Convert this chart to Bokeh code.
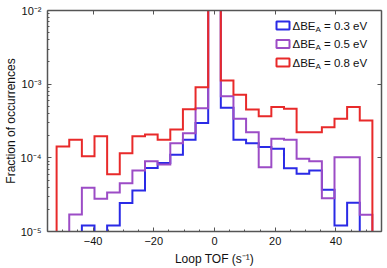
from bokeh.plotting import figure
from bokeh.models import (LinearAxis, LogAxis, CustomJSTickFormatter, FixedTicker,
                          BoxAnnotation, Label, Range1d, SingleIntervalTicker)
from bokeh.embed import file_html
from bokeh.resources import INLINE
import numpy as np

# ---- data ----
bin_start = -52.0
bin_stop = 52.0
n_bins = 25

series_labels = ["0.3 eV", "0.5 eV", "0.8 eV"]
frac_03 = [0, 0, 1.21e-5, 0, 1.21e-5, 2.43e-5, 3.6e-5, 7.3e-5, 8.5e-5, 1.1e-4, 1.76e-4, 2.96e-4,
           0.997, 4.78e-4, 1.76e-4, 1.58e-4, 1.40e-4, 1.33e-4, 7.2e-5, 6.07e-5, 6.73e-5, 3.68e-5,
           1.21e-5, 2.45e-5, 0]
frac_05 = [0, 1.70e-5, 3.92e-5, 2.78e-5, 3.38e-5, 4.53e-5, 6.73e-5, 9.0e-5, 8.13e-5, 1.58e-4, 2.16e-4,
           4.72e-4, 0.995, 6.87e-4, 3.39e-4, 2.23e-4, 7.46e-5, 1.81e-4, 1.76e-4, 9.7e-5, 9.0e-5, 2.83e-5,
           1.02e-4, 1.02e-4, 1.69e-5]
frac_08 = [1.43e-4, 1.76e-4, 1.05e-4, 1.97e-4, 6.0e-5, 1.15e-4, 1.97e-4, 2.07e-4, 1.76e-4, 2.43e-4,
           4.58e-4, 9.1e-4, 0.99, 1.12e-3, 7.2e-4, 4.53e-4, 3.68e-4, 4.88e-4, 4.63e-4, 2.23e-4, 2.23e-4,
           2.61e-4, 3.39e-4, 4.88e-4, 3.21e-4]

x_ticks = [-40, -20, 0, 20, 40]
y_ticks = [1e-5, 1e-4, 1e-3, 1e-2]
y_minor = [k * 10.0 ** e for e in (-5, -4, -3) for k in range(2, 10)]

colors = ["#2a2ae6", "#9c4cc6", "#e82a2a"]
FONT = "Liberation Sans"
AX = "#555555"

p = figure(frame_width=334, frame_height=221,
           x_range=Range1d(-55, 55), y_range=Range1d(1e-5, 1e-2),
           y_axis_type="log", output_backend="svg", toolbar_location=None,
           min_border_left=42, min_border_right=3, min_border_top=10, min_border_bottom=0)
p.outline_line_color = None
p.grid.visible = False
p.background_fill_color = "white"

edges = np.linspace(bin_start, bin_stop, n_bins + 1)
floor = 1e-9
for vals, col in zip([frac_03, frac_05, frac_08], colors):
    v = [x if x > 0 else floor for x in vals]
    xs = [edges[0]] + list(edges)
    ys = [floor] + v + [floor]
    p.step(x=xs, y=ys, mode="after", line_color=col, line_width=2, line_join="miter")

# bottom axis
xa = p.xaxis[0]
xa.ticker = FixedTicker(ticks=x_ticks, minor_ticks=list(range(-55, 56, 5)))
xa.axis_label = "Loop TOF (s\u207b\u00b9)"
xa.major_tick_in = 4; xa.major_tick_out = 0
xa.minor_tick_in = 2; xa.minor_tick_out = 0
xa.major_label_standoff = 5
xa.axis_label_standoff = 4

# left axis
ya = p.yaxis[0]
ya.ticker = FixedTicker(ticks=y_ticks, minor_ticks=y_minor)
ya.formatter = CustomJSTickFormatter(code="""
const sup = {'-':'\u207b','0':'\u2070','1':'\u00b9','2':'\u00b2','3':'\u00b3','4':'\u2074','5':'\u2075','6':'\u2076','7':'\u2077','8':'\u2078','9':'\u2079'};
const e = Math.round(Math.log10(tick));
return '10' + String(e).split('').map(c => sup[c]).join('');
""")
ya.axis_label = "Fraction of occurrences"
ya.major_tick_in = 4; ya.major_tick_out = 0
ya.minor_tick_in = 2; ya.minor_tick_out = 0
ya.major_label_standoff = 6
ya.axis_label_standoff = 0

for ax in [xa, ya]:
    ax.axis_line_color = AX
    ax.axis_line_width = 1.5
    ax.major_tick_line_color = AX
    ax.minor_tick_line_color = AX
    ax.major_label_text_font = FONT
    ax.major_label_text_font_size = "11px"
    ax.major_label_text_color = "#111111"
    ax.axis_label_text_font = FONT
    ax.axis_label_text_font_size = "12px"
    ax.axis_label_text_font_style = "normal"
    ax.axis_label_text_color = "#111111"

empty = CustomJSTickFormatter(code="return '';")
top = LinearAxis(ticker=FixedTicker(ticks=x_ticks), formatter=empty)
right = LogAxis(ticker=FixedTicker(ticks=y_ticks), formatter=empty)
for ax in [top, right]:
    ax.axis_line_color = AX
    ax.axis_line_width = 1.5
    ax.major_tick_line_color = AX
    ax.major_tick_in = 4; ax.major_tick_out = 0
    ax.minor_tick_in = 0; ax.minor_tick_out = 0
    ax.major_label_standoff = 0
    ax.major_label_text_font_size = "1px"
p.add_layout(top, "above")
p.add_layout(right, "right")

# legend (manual, for the subscript)
leg_y = [206, 187.5, 169]
for col, lab, yc in zip(colors, series_labels, leg_y):
    p.add_layout(BoxAnnotation(left=229, right=242, bottom=yc - 4, top=yc + 4,
                               left_units="screen", right_units="screen",
                               bottom_units="screen", top_units="screen",
                               fill_alpha=0, line_color=col, line_alpha=1, line_width=2))
    p.add_layout(Label(x=245, y=yc, x_units="screen", y_units="screen", text="\u0394BE",
                       text_baseline="middle", text_font=FONT, text_font_size="11.5px",
                       text_color="#111111"))
    p.add_layout(Label(x=268, y=yc - 3.5, x_units="screen", y_units="screen", text="A",
                       text_baseline="middle", text_font=FONT, text_font_size="8px",
                       text_color="#111111"))
    p.add_layout(Label(x=276.5, y=yc, x_units="screen", y_units="screen", text="= " + lab,
                       text_baseline="middle", text_font=FONT, text_font_size="11.5px",
                       text_color="#111111"))

open("out.html", "w", encoding="utf-8").write(file_html(p, INLINE))
